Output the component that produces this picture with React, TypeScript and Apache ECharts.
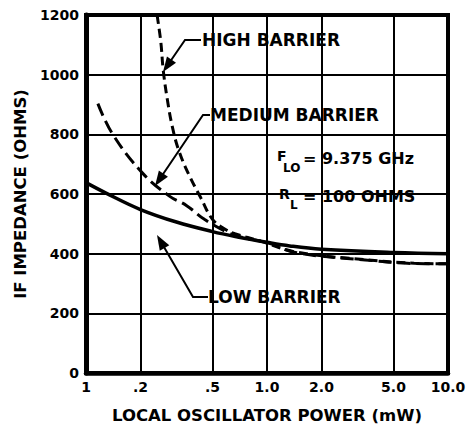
import React, { useEffect, useRef } from 'react';
import * as echarts from 'echarts';

const xTickValues = [0.1, 0.2, 0.5, 1, 2, 5, 10];
const xTickLabels = ['1', '.2', '.5', '1.0', '2.0', '5.0', '10.0'];

const lowX = [0.1, 0.129, 0.2, 0.316, 0.5, 0.688, 1.0, 1.336, 2.0, 5, 10];
const lowY = [638, 603, 548, 506, 474, 456, 438, 426, 415, 404, 400];

const medX = [0.1163, 0.1405, 0.2053, 0.289, 0.36, 0.451, 0.603, 0.717, 1.0, 1.46, 3.49, 6.5, 10];
const medY = [903, 800, 670, 593, 561, 515, 472, 456, 437, 403, 379, 367, 366];

const highX = [0.247, 0.259, 0.267, 0.281, 0.3, 0.325, 0.37, 0.43, 0.5, 0.587, 0.67, 0.875, 1.46, 3.49, 6.5, 10];
const highY = [1200, 1110, 1016, 919, 825, 747, 665, 588, 515, 482, 466, 446, 405, 380, 368, 366];

const FONT = 'DejaVu Sans';

function zip(xs: number[], ys: number[]) {
  return xs.map((x, i) => [x, ys[i]]);
}

function arrow(points: number[][]) {
  const n = points.length;
  const tip = points[n - 1];
  const prev = points[n - 2];
  const dx = tip[0] - prev[0];
  const dy = tip[1] - prev[1];
  const len = Math.sqrt(dx * dx + dy * dy);
  const ux = dx / len;
  const uy = dy / len;
  const L = 15;
  const W = 5.5;
  const bx = tip[0] - ux * L;
  const by = tip[1] - uy * L;
  const lineEnd = [tip[0] - ux * (L - 2), tip[1] - uy * (L - 2)];
  const linePts = points.slice(0, n - 1).concat([lineEnd]);
  return [
    {
      type: 'polyline',
      shape: { points: linePts },
      style: { stroke: '#000', lineWidth: 2, fill: null },
      z: 100,
    },
    {
      type: 'polygon',
      shape: {
        points: [
          [tip[0], tip[1]],
          [bx - uy * W, by + ux * W],
          [bx + uy * W, by - ux * W],
        ],
      },
      style: { fill: '#000' },
      z: 100,
    },
  ];
}

function label(text: string, x: number, y: number, size = 17) {
  return {
    type: 'text',
    x,
    y,
    style: {
      text,
      fill: '#000',
      font: `bold ${size}px "${FONT}"`,
      textVerticalAlign: 'middle',
      verticalAlign: 'middle',
    },
    z: 100,
  };
}

export default function App() {
  const ref = useRef<HTMLDivElement>(null);
  useEffect(() => {
    const chart = echarts.init(ref.current!, null, { renderer: 'svg' });
    const fmt = (v: number) => {
      const i = xTickValues.findIndex((t) => Math.abs(t - v) < 1e-6 * Math.max(1, t));
      return i >= 0 ? xTickLabels[i] : '';
    };
    chart.setOption({
      animation: false,
      backgroundColor: '#fff',
      grid: {
        left: 86,
        top: 15,
        right: 19,
        bottom: 51,
        show: true,
        borderColor: '#000',
        borderWidth: 4,
        backgroundColor: 'transparent',
        containLabel: false,
        outerBoundsMode: 'none',
      },
      xAxis: {
        type: 'log',
        logBase: 10,
        min: 0.1,
        max: 10,
        axisLine: { show: true, lineStyle: { color: '#000', width: 4.5 } },
        axisTick: { show: false, customValues: xTickValues },
        splitLine: { show: true, lineStyle: { color: '#000', width: 2 } },
        minorSplitLine: { show: false },
        axisLabel: {
          customValues: xTickValues,
          formatter: fmt,
          color: '#000',
          fontFamily: FONT,
          fontWeight: 'bold',
          fontSize: 14,
          margin: 7,
          showMinLabel: true,
          showMaxLabel: true,
        },
        name: 'LOCAL OSCILLATOR POWER (mW)',
        nameLocation: 'middle',
        nameGap: 34,
        nameTextStyle: { color: '#000', fontFamily: FONT, fontWeight: 'bold', fontSize: 16.5 },
      },
      yAxis: {
        type: 'value',
        min: 0,
        max: 1200,
        interval: 200,
        axisLine: { show: true, lineStyle: { color: '#000', width: 5 } },
        axisTick: { show: false },
        splitLine: { show: true, lineStyle: { color: '#000', width: 2 } },
        axisLabel: {
          formatter: (v: number) => String(v),
          color: '#000',
          fontFamily: FONT,
          fontWeight: 'bold',
          fontSize: 14,
          margin: 7,
        },
        name: 'IF IMPEDANCE (OHMS)',
        nameLocation: 'middle',
        nameGap: 56,
        nameTextStyle: { color: '#000', fontFamily: FONT, fontWeight: 'bold', fontSize: 16.5 },
      },
      series: [
        {
          name: 'LOW BARRIER',
          type: 'line',
          data: zip(lowX, lowY),
          smooth: 0.4,
          showSymbol: false,
          lineStyle: { color: '#000', width: 3.5 },
          z: 5,
        },
        {
          name: 'MEDIUM BARRIER',
          type: 'line',
          data: zip(medX, medY),
          smooth: 0.4,
          showSymbol: false,
          lineStyle: { color: '#000', width: 3, type: [13, 6] },
          z: 5,
        },
        {
          name: 'HIGH BARRIER',
          type: 'line',
          data: zip(highX, highY),
          smooth: 0.4,
          showSymbol: false,
          lineStyle: { color: '#000', width: 3, type: [9, 5] },
          z: 5,
        },
      ],
      graphic: [
        ...arrow([[201, 40], [185, 40], [163, 72]]),
        label('HIGH BARRIER', 202, 40),
        ...arrow([[210, 115], [203, 115], [155, 186]]),
        label('MEDIUM BARRIER', 210, 115),
        ...arrow([[208, 297], [193, 297], [157, 235]]),
        label('LOW BARRIER', 208, 297),
        label('F', 277, 156, 14),
        label('LO', 283, 168, 12),
        label('= 9.375 GHz', 303, 158, 16),
        label('R', 279, 194, 14),
        label('L', 290, 205, 12),
        label('= 100 OHMS', 303, 196, 16),
      ],
    });
    return () => chart.dispose();
  }, []);
  return (
    <div
      ref={ref}
      style={{ position: 'absolute', left: 0, top: 0, width: 467, height: 424, background: '#fff' }}
    />
  );
}
